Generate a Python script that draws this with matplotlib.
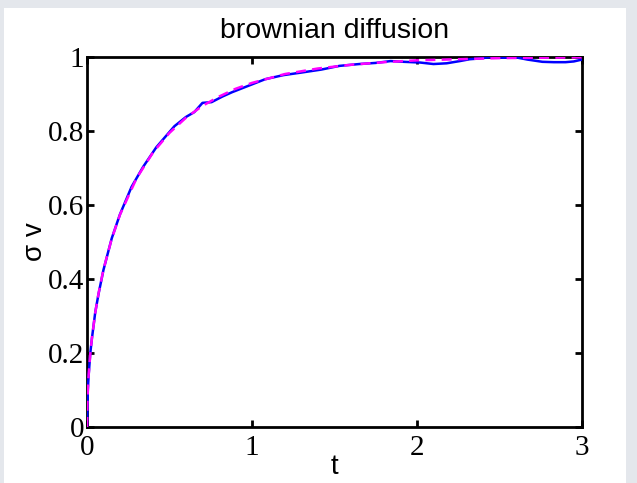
import matplotlib
matplotlib.use('Agg')
import matplotlib.pyplot as plt
from matplotlib.patches import Rectangle

# simulated curve (blue, noisy)
t_sim = [0, 0.005, 0.01, 0.02, 0.03, 0.05, 0.07, 0.1, 0.15, 0.2, 0.27, 0.34, 0.42, 0.53, 0.6, 0.65,
         0.70, 0.755, 0.82, 0.88, 0.96, 1.08, 1.19, 1.3, 1.42, 1.53, 1.65, 1.75, 1.84, 1.92, 2.02,
         2.1, 2.18, 2.26, 2.32, 2.38, 2.45, 2.52, 2.6, 2.67, 2.76, 2.83, 2.9, 2.95, 3.0]
v_sim = [0, 0.10, 0.14, 0.20, 0.24, 0.31, 0.36, 0.425, 0.51, 0.575, 0.649, 0.703, 0.756, 0.813, 0.838, 0.851,
         0.876, 0.878, 0.893, 0.905, 0.919, 0.94, 0.951, 0.958, 0.966, 0.976, 0.981, 0.984, 0.989, 0.987, 0.985,
         0.981, 0.983, 0.989, 0.994, 0.996, 1.0, 0.998, 0.999, 0.993, 0.987, 0.986, 0.986, 0.988, 0.993]

# theory curve (magenta, dashed)
t_th = [0, 0.002, 0.005, 0.01, 0.02, 0.03, 0.05, 0.07, 0.1, 0.15, 0.2, 0.3, 0.4, 0.5, 0.6, 0.7, 0.8, 0.9,
        1.0, 1.2, 1.4, 1.6, 1.8, 2.0, 2.25, 2.5, 2.75, 3.0]
v_th = [0, 0.063, 0.100, 0.141, 0.198, 0.241, 0.309, 0.361, 0.426, 0.509, 0.574, 0.672, 0.742, 0.795, 0.836,
        0.868, 0.893, 0.914, 0.930, 0.954, 0.969, 0.979, 0.986, 0.991, 0.994, 0.997, 0.998, 0.999]

fig = plt.figure(figsize=(6.37, 4.83), dpi=100, facecolor='#e4e7ec')
fig.patches.append(Rectangle((4/637, 0), 622/637, 475/483, transform=fig.transFigure,
                             facecolor='white', edgecolor='none', zorder=-10))
ax = fig.add_axes([87/637, 56/483, 495/637, 370/483])

ax.plot(t_sim, v_sim, color='#0000ff', lw=1.8, zorder=3)
ax.plot(t_th, v_th, color='#ff00ff', lw=1.8, ls=(0, (4, 2.5)), zorder=4)

ax.set_xlim(0, 3)
ax.set_ylim(0, 1)
ax.set_xticks([0, 1, 2, 3])
ax.set_xticklabels(['0', '1', '2', '3'])
ax.set_yticks([0, 0.2, 0.4, 0.6, 0.8, 1])
ax.set_yticklabels(['0', '0.2', '0.4', '0.6', '0.8', '1'])
for s in ax.spines.values():
    s.set_linewidth(2)
ax.tick_params(direction='in', length=5, width=2, top=True, right=True, labelsize=21)
ax.tick_params(axis='y', pad=2)
ax.tick_params(axis='x', pad=6)
for lab in ax.get_xticklabels() + ax.get_yticklabels():
    lab.set_family('Liberation Serif')

ax.set_title('brownian diffusion', fontsize=20.5, family='Liberation Sans', pad=14)
ax.set_xlabel('t', fontsize=20, family='Liberation Sans', labelpad=-5)
ax.set_ylabel('σ v', fontsize=20, family='Liberation Sans', labelpad=0)

fig.savefig('out.png', dpi=100, facecolor=fig.get_facecolor())
